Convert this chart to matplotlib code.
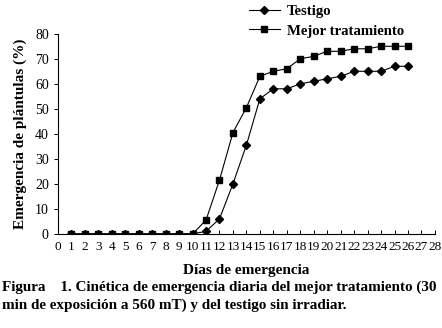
import matplotlib.pyplot as plt
from matplotlib.lines import Line2D

plt.rcParams['font.family'] = ['Liberation Serif', 'DejaVu Serif']

dias = list(range(1, 27))
testigo = [0, 0, 0, 0, 0, 0, 0, 0, 0, 0,
           1, 6, 20, 35.5, 54, 58, 58, 60, 61, 62, 63, 65, 65, 65, 67, 67]
mejor = [0, 0, 0, 0, 0, 0, 0, 0, 0, 0,
         5.5, 21.5, 40.5, 50.5, 63, 65, 66, 70, 71, 73, 73, 74, 74, 75, 75, 75]
xticks = list(range(0, 29))
yticks = [0, 10, 20, 30, 40, 50, 60, 70, 80]

fig = plt.figure(figsize=(4.42, 3.28), dpi=100)
ax = fig.add_axes([0.131, 0.287, 0.853, 0.61])

ax.plot(dias, testigo, color='black', lw=0.8, marker='D', ms=3.8)
ax.plot(dias, mejor, color='black', lw=0.8, marker='s', ms=4.8)

ax.set_xlim(0, 28)
ax.set_ylim(0, 80)
ax.set_xticks(xticks)
ax.set_xticklabels([str(t) for t in xticks], fontsize=9.5)
ax.set_yticks(yticks)
ax.set_yticklabels([str(t) for t in yticks], fontsize=10)
ax.tick_params(axis='x', direction='in', length=3, pad=5, width=0.7)
ax.tick_params(axis='y', direction='out', length=3, width=0.7)
ax.spines['top'].set_visible(False)
ax.spines['right'].set_visible(False)
for s in ['left', 'bottom']:
    ax.spines[s].set_linewidth(0.8)

ax.set_xlabel('Días de emergencia', fontsize=11, fontweight='bold', labelpad=8)
ax.set_ylabel('Emergencia de plántulas (%)', fontsize=11, fontweight='bold', labelpad=6)

handles = [Line2D([], [], color='black', lw=0.8, marker='D', ms=3.8),
           Line2D([], [], color='black', lw=0.8, marker='s', ms=4.8)]
fig.legend(handles, ['Testigo', 'Mejor tratamiento'], loc='upper left',
           bbox_to_anchor=(0.533, 1.027), frameon=False, handlelength=2.1,
           handletextpad=0.5, labelspacing=0.45,
           prop={'weight': 'bold', 'size': 10.6})

fig.text(0.005, 0.114, 'Figura    1. Cinética de emergencia diaria del mejor tratamiento (30',
         fontsize=10.9, fontweight='bold', ha='left')
fig.text(0.005, 0.058, 'min de exposición a 560 mT) y del testigo sin irradiar.',
         fontsize=10.9, fontweight='bold', ha='left')

fig.savefig('out.png', dpi=100)
